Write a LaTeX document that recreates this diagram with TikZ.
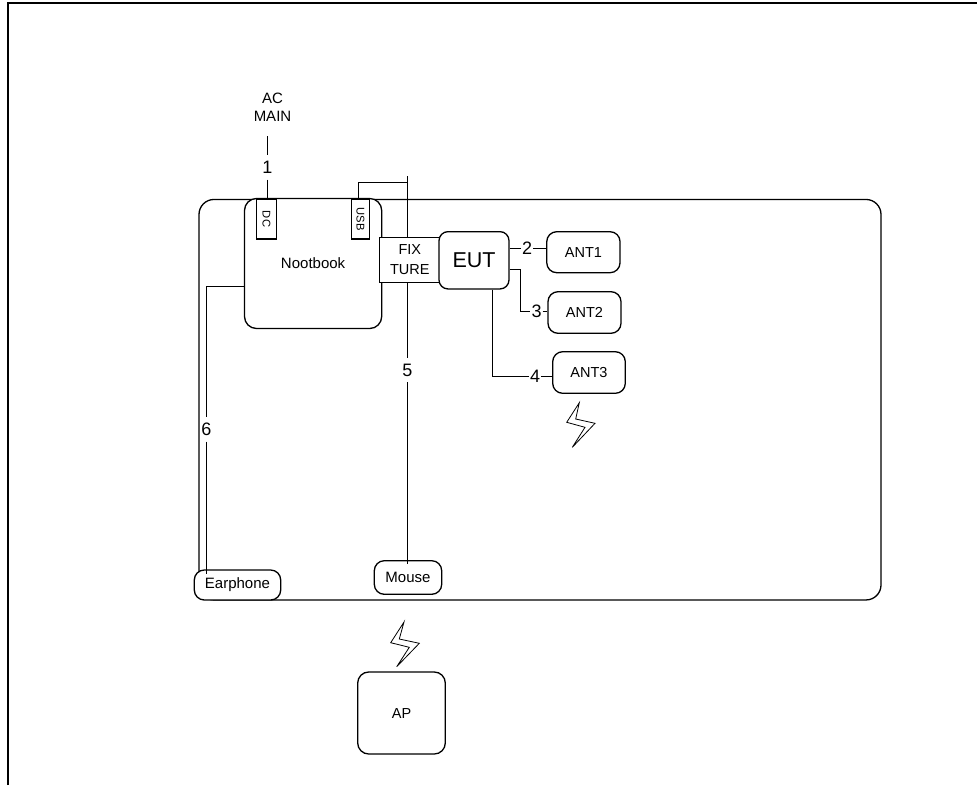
\documentclass[tikz,border=0pt]{standalone}
\usepackage{fontspec}
\setmainfont{Liberation Sans}
\tikzset{
  box/.style={draw=black,fill=white,line width=1.3pt,inner sep=0pt,align=center,font=\fontsize{14.5}{17}\selectfont},
  wire/.style={draw=black,line width=1pt},
  hnum/.style={fill=white,inner xsep=1pt,inner ysep=0pt,font=\fontsize{18}{20}\selectfont},
  vnum/.style={fill=white,inner xsep=0pt,minimum height=24pt,inner ysep=0pt,font=\fontsize{18}{20}\selectfont},
  bolt/.style={draw=black,line width=.8pt,line join=miter},
  plain/.style={inner sep=0pt,align=center,font=\fontsize{15}{18.5}\selectfont},
  rbox/.style={box,rounded corners=#1},
  szbox/.style n args={2}{minimum width=#1pt,minimum height=#2pt}
}
\begin{document}
\begin{tikzpicture}[x=1pt,y=-1pt]
\useasboundingbox (0,0) rectangle (977,785);
% outer frame
\coordinate (fa) at (7.6,785);
\coordinate (fb) at (7.6,3.2);
\coordinate (fc) at (977,3.2);
\draw[black,line width=2pt] (fa) -- (fb) -- (fc);
% bench
\node[rbox=15pt,szbox={682}{400.5}] (bench) at (540,399.7) {};
% wire end points
\coordinate (tapTop) at (407.5,176);
\coordinate (tapMouse) at (407.5,564);
\coordinate (usbTurn) at (358.5,182.5);
\coordinate (acTop) at (267.5,136);
\coordinate (earEnd) at (206.5,574);
\node[rbox=12pt,szbox={137.2}{130}] (note) at (313.1,263.5) {\fontsize{15}{18}\selectfont Nootbook};
\node[box,font=\fontsize{11.2}{13}\selectfont,rotate=-90,minimum width=40pt,minimum height=20pt] (dc) at (266.5,219) {DC};
\node[box,font=\fontsize{11.2}{13}\selectfont,rotate=-90,minimum width=40pt,minimum height=18pt] (usb) at (360.5,219) {USB};
% connector 1
\node[vnum] (n1) at (acTop |- 0,167.5) {1};
\draw[wire] (acTop) -- (n1.north);
\draw[wire] (n1.south) -- (n1.south |- dc.west);
\node[plain] (ac) at (272.5,107.5) {AC\\MAIN};
% connector 5
\node[vnum] (n5) at (tapTop |- 0,370) {5};
\draw[wire] (usbTurn |- usb.west) -- (usbTurn) -- (tapTop |- usbTurn);
\draw[wire] (tapTop) -- (n5.north);
\draw[wire] (n5.south) -- (tapMouse);
\node[box,szbox={60.5}{45},font=\fontsize{14.5}{20}\selectfont,line width=1.1pt] (fix) at (409.8,259.8) {FIX\\TURE};
\node[rbox=9pt,szbox={70}{57.3},font=\fontsize{21.5}{24}\selectfont] (eut) at (474,260.3) {EUT};
\node[rbox=10pt,szbox={73.3}{41}] (ant1) at (583.4,252.2) {ANT1};
\node[rbox=10pt,szbox={73}{41.6}] (ant2) at (584.5,312.5) {ANT2};
\node[rbox=10pt,szbox={72.6}{41.6}] (ant3) at (589,372.5) {ANT3};
% antenna connectors
\node[hnum] (n2) at (527,248.5) {2};
\draw[wire] (eut.east |- n2) -- (n2.west);
\draw[wire] (n2.east) -- (ant1.west |- n2);
\node[hnum] (n3) at (536.5,311.5) {3};
\coordinate (t3a) at (520.5,269.5);
\draw[wire] (eut.east |- t3a) -- (t3a) -- (t3a |- n3) -- (n3.west);
\draw[wire] (n3.east) -- (ant2.west |- n3);
\node[hnum] (n4) at (535,376.5) {4};
\coordinate (t4a) at (492.5,376.5);
\draw[wire] (t4a |- eut.south) -- (t4a) -- (n4.west);
\draw[wire] (n4.east) -- (ant3.west |- n4);
% bottom devices
\node[rbox=10pt,szbox={67.4}{33.6}] (mouse) at (408,577.5) {\fontsize{15}{18}\selectfont Mouse};
\draw[wire] (mouse.north -| tapMouse) -- (tapMouse);
\node[rbox=10pt,szbox={86.4}{30}] (ear) at (237.5,585) {\fontsize{15}{18}\selectfont Earphone};
\node[vnum] (n6) at (206.5,429.5) {6};
\draw[wire] (note.west |- 0,286.5) -- (earEnd |- 0,286.5) -- (n6.north);
\draw[wire] (n6.south) -- (earEnd);
\node[rbox=11pt,szbox={87.6}{82}] (ap) at (401.5,713) {AP};
% lightning
\draw[bolt] (579.3,402.7) -- (566.7,422.3) -- (585,427.3) -- (572.3,447.3) -- (595,423.3) -- (575.7,419) -- cycle;
\draw[bolt] (404,622) -- (390.7,642.7) -- (409.3,647.3) -- (396.7,666.7) -- (419.3,643.3) -- (399.3,639) -- cycle;
\end{tikzpicture}
\end{document}
